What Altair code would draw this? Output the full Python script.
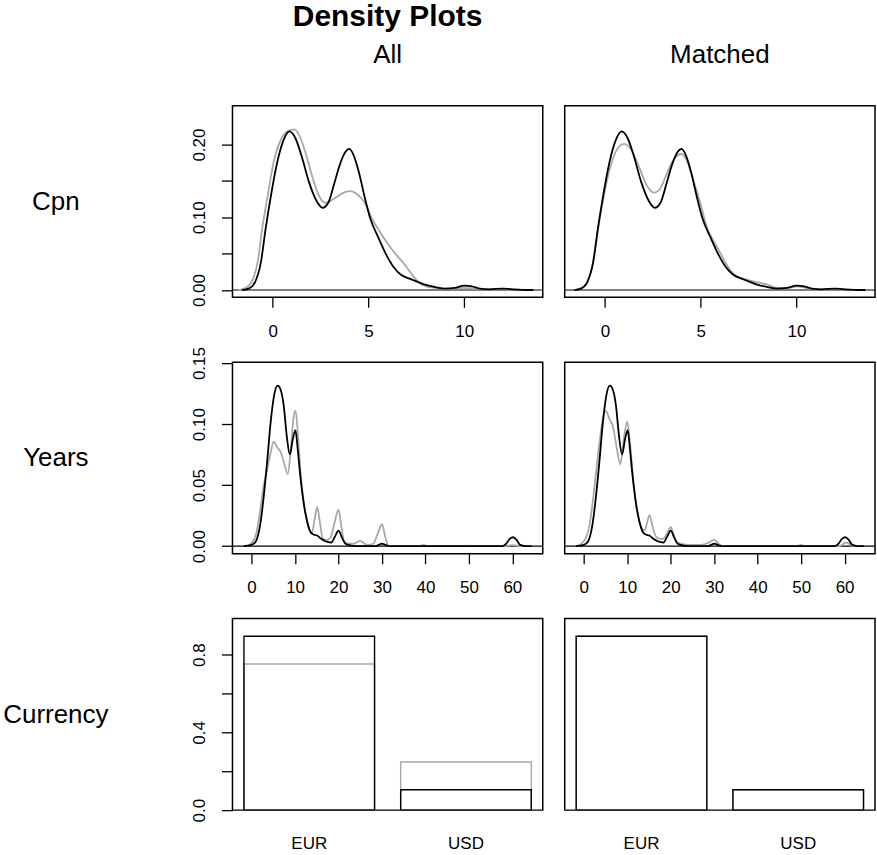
import altair as alt
import pandas as pd

FONT = "Liberation Sans"
GREY = "#a8a8a8"

# ---------------- data ----------------
# Cpn densities (black = treated, shared by both columns)
cpn_black_x = [-1.6, -1.25, -0.92, -0.61, -0.37, -0.09, 0.24, 0.55, 0.87, 1.2, 1.5, 1.9, 2.3, 2.6, 2.9,
               3.2, 3.5, 3.8, 4.0, 4.2, 4.5, 4.8, 5.1, 5.5, 5.9, 6.3, 6.7, 7.1, 7.5, 8.0, 8.5, 9.0,
               9.5, 10.0, 10.4, 10.8, 11.3, 12.0, 12.5, 13.0, 13.6]
cpn_black_y = [0.0, 0.002, 0.011, 0.039, 0.084, 0.13, 0.176, 0.205, 0.218, 0.208, 0.185, 0.148, 0.122,
               0.113, 0.12, 0.145, 0.172, 0.19, 0.194, 0.187, 0.162, 0.128, 0.098, 0.073, 0.05, 0.032,
               0.021, 0.016, 0.012, 0.007, 0.004, 0.002, 0.003, 0.006, 0.005, 0.002, 0.001, 0.002,
               0.001, 0.0003, 0.0]
cpn_all_grey_x = [-1.8, -1.4, -1.1, -0.78, -0.55, -0.26, 0.05, 0.45, 0.8, 1.13, 1.4, 1.7, 2.0, 2.3, 2.6,
                  2.8, 3.1, 3.4, 3.8, 4.05, 4.4, 4.8, 5.2, 5.6, 6.0, 6.4, 6.8, 7.2, 7.6, 8.0, 8.5, 9.0,
                  9.5, 10.0, 10.5, 11.0, 12.0, 13.5]
cpn_all_grey_y = [0.0, 0.003, 0.011, 0.039, 0.084, 0.13, 0.176, 0.208, 0.219, 0.221, 0.212, 0.19, 0.162,
                  0.137, 0.122, 0.12, 0.124, 0.129, 0.135, 0.136, 0.132, 0.12, 0.097, 0.08, 0.064, 0.05,
                  0.038, 0.024, 0.011, 0.005, 0.003, 0.002, 0.002, 0.003, 0.002, 0.001, 0.001, 0.0]
cpn_match_grey_x = [-1.6, -1.2, -0.92, -0.61, -0.37, -0.09, 0.24, 0.6, 1.0, 1.4, 1.8, 2.2, 2.56, 2.9,
                    3.2, 3.6, 4.0, 4.3, 4.6, 5.0, 5.3, 5.7, 6.0, 6.4, 6.8, 7.3, 7.9, 8.4, 9.0, 9.6,
                    10.05, 10.5, 11.0, 12.0, 13.3]
cpn_match_grey_y = [0.0, 0.003, 0.011, 0.039, 0.082, 0.125, 0.165, 0.192, 0.201, 0.192, 0.168, 0.143,
                    0.134, 0.14, 0.158, 0.18, 0.187, 0.177, 0.152, 0.118, 0.088, 0.066, 0.052, 0.033,
                    0.02, 0.015, 0.011, 0.008, 0.003, 0.003, 0.005, 0.003, 0.001, 0.001, 0.0]

# Years densities
yrs_black_x = [-1.8, 0.0, 1.0, 2.0, 2.8, 3.6, 4.4, 5.2, 6.0, 6.7, 7.4, 8.1, 8.8, 9.5, 10.1, 10.6, 11.2,
               12.0, 12.8, 13.5, 14.2, 15.1, 16.0, 17.0, 18.3, 19.2, 20.0, 20.8, 21.6, 23.0, 25.0, 28.5,
               29.3, 30.0, 30.8, 32.0, 57.8, 58.6, 59.4, 60.2, 61.0, 61.8, 63.0, 64.4]
yrs_black_y = [0.0, 0.001, 0.004, 0.018, 0.041, 0.07, 0.102, 0.124, 0.1315, 0.128, 0.115, 0.09, 0.075,
               0.088, 0.095, 0.08, 0.058, 0.035, 0.02, 0.012, 0.0095, 0.0087, 0.006, 0.004, 0.003, 0.008,
               0.0128, 0.007, 0.002, 0.0005, 0.0, 0.0, 0.001, 0.002, 0.001, 0.0, 0.0, 0.002, 0.006,
               0.0073, 0.005, 0.001, 0.0, 0.0]
yrs_all_grey_x = [-1.0, 0.5, 1.3, 2.0, 2.8, 3.6, 4.4, 5.1, 5.9, 6.7, 7.5, 8.3, 9.0, 9.6, 10.1, 10.6, 11.2,
                  12.0, 12.8, 13.5, 13.9, 14.5, 15.1, 15.7, 16.4, 17.2, 18.1, 19.0, 20.0, 20.7, 21.3,
                  22.3, 23.5, 25.0, 26.0, 26.8, 28.0, 29.0, 30.0, 30.8, 31.5, 33.0, 38.5, 39.6, 40.5,
                  49.0, 50.0, 51.0, 58.0, 60.0, 62.0, 64.0]
yrs_all_grey_y = [0.0, 0.005, 0.014, 0.03, 0.05, 0.063, 0.077, 0.0856, 0.081, 0.077, 0.068, 0.059,
                  0.078, 0.104, 0.111, 0.095, 0.063, 0.036, 0.0196, 0.012, 0.011, 0.022, 0.032, 0.02,
                  0.006, 0.005, 0.0065, 0.018, 0.03, 0.015, 0.0038, 0.002, 0.002, 0.0043, 0.002, 0.001,
                  0.002, 0.01, 0.018, 0.007, 0.0005, 0.0, 0.0, 0.001, 0.0, 0.0, 0.0004, 0.0, 0.0,
                  0.0008, 0.0, 0.0]
yrs_match_grey_x = [-1.5, 0.0, 1.3, 2.0, 2.8, 3.6, 4.4, 5.1, 5.9, 6.7, 7.5, 8.4, 9.2, 10.0, 10.6, 11.3,
                    12.0, 12.8, 13.5, 14.0, 14.6, 15.1, 15.8, 16.7, 17.5, 18.2, 19.2, 20.0, 20.7, 21.4,
                    23.0, 25.1, 27.0, 28.8, 30.0, 31.0, 32.0, 48.8, 50.0, 51.0, 58.8, 60.4, 62.0, 64.0]
yrs_match_grey_y = [0.0, 0.004, 0.017, 0.035, 0.06, 0.085, 0.105, 0.1106, 0.104, 0.098, 0.082, 0.067,
                    0.088, 0.102, 0.085, 0.058, 0.035, 0.0196, 0.014, 0.0128, 0.02, 0.0255, 0.016,
                    0.0073, 0.006, 0.006, 0.011, 0.0155, 0.009, 0.003, 0.0015, 0.001, 0.001, 0.003,
                    0.0054, 0.002, 0.0, 0.0, 0.001, 0.0, 0.0, 0.003, 0.0, 0.0]

# Currency proportions
currencies = ["EUR", "USD"]
cur_all_black = [0.895, 0.105]
cur_all_grey = [0.752, 0.248]
cur_match_black = [0.895, 0.105]
cur_match_grey = [0.895, 0.105]

row_labels = ["Cpn", "Years", "Currency"]
col_labels = ["All", "Matched"]
main_title = "Density Plots"

# ---------------- helpers ----------------
W, H = 311, 192
LBL = 26


def x_axis(values):
    return alt.Axis(values=values, format="d", domain=False, grid=False, ticks=True, tickSize=10,
                    tickWidth=1.3, tickColor="black", labelFontSize=17, labelFont=FONT,
                    labelColor="black", labelPadding=16, labelBaseline="top", labelFlush=False,
                    labelOverlap=False, title=None)


def y_axis(values, expr, title):
    return alt.Axis(values=values, domain=False, grid=False, ticks=True, tickSize=11, tickWidth=1.3,
                    tickColor="black", labelFontSize=17, labelFont=FONT, labelColor="black",
                    labelAngle=270, labelAlign="center", labelBaseline="alphabetic", labelPadding=17,
                    labelExpr=expr, labelOverlap=False, labelFlush=False, title=title, titleAngle=0,
                    titleAlign="center", titleBaseline="alphabetic", titleX=-177.5, titleY=104,
                    titleFontSize=LBL, titleFontWeight="normal", titleFont=FONT, titleColor="black")


def density_panel(gx, gy, bx, by, xdom, ydom, xticks, yax):
    xe = alt.X("x:Q", scale=alt.Scale(domain=xdom, nice=False, zero=False), axis=x_axis(xticks))
    ye = alt.Y("y:Q", scale=alt.Scale(domain=ydom, nice=False, zero=False), axis=yax)
    zero = alt.Chart(pd.DataFrame({"y": [0.0]})).mark_rule(color="black", strokeWidth=1.2).encode(y=ye)
    grey = alt.Chart(pd.DataFrame({"x": gx, "y": gy})).mark_line(
        interpolate="monotone", color=GREY, strokeWidth=1.8).encode(x=xe, y=ye)
    black = alt.Chart(pd.DataFrame({"x": bx, "y": by})).mark_line(
        interpolate="monotone", color="black", strokeWidth=1.8).encode(x=xe, y=ye)
    return alt.layer(zero, grey, black).properties(width=W, height=H)


def bar_panel(grey_vals, black_vals, yax):
    xe = alt.X("cur:N", sort=currencies,
               scale=alt.Scale(paddingInner=0.1667, paddingOuter=0.0733),
               axis=alt.Axis(ticks=False, tickSize=0, domain=False, grid=False, labelAngle=0,
                             labelFontSize=17, labelFont=FONT, labelColor="black", labelPadding=25,
                             labelBaseline="top", title=None))
    ye = alt.Y("v:Q", scale=alt.Scale(domain=[0, 0.986], nice=False, zero=False), axis=yax)
    grey = alt.Chart(pd.DataFrame({"cur": currencies, "v": grey_vals})).mark_bar(
        fillOpacity=0, stroke=GREY, strokeWidth=1.4).encode(x=xe, y=ye)
    black = alt.Chart(pd.DataFrame({"cur": currencies, "v": black_vals})).mark_bar(
        fillOpacity=0, stroke="black", strokeWidth=1.4).encode(x=xe, y=ye)
    return alt.layer(grey, black).properties(width=W, height=H)


cpn_dom_x = [-2.1, 14.1]
cpn_dom_y = [-0.0100, 0.2534]
yrs_dom_x = [-4.4, 67.0]
yrs_dom_y = [-0.0062, 0.1508]

cpn_expr = "indexof(['0.00','0.10','0.20'], format(datum.value, '.2f')) >= 0 ? format(datum.value, '.2f') : ''"
yrs_expr = "format(datum.value, '.2f')"
cur_expr = "indexof(['0.0','0.4','0.8'], format(datum.value, '.1f')) >= 0 ? format(datum.value, '.1f') : ''"

p11 = density_panel(cpn_all_grey_x, cpn_all_grey_y, cpn_black_x, cpn_black_y, cpn_dom_x, cpn_dom_y,
                    [0, 5, 10], y_axis([0, 0.05, 0.1, 0.15, 0.2], cpn_expr, row_labels[0]))
p11 = p11.properties(title=alt.TitleParams(
    text=main_title, subtitle=col_labels[0], fontSize=30, fontWeight="bold", font=FONT, color="black",
    subtitleFontSize=LBL, subtitleFont=FONT, subtitleColor="black", subtitleFontWeight="normal",
    subtitlePadding=10, anchor="middle", frame="group", offset=38))
p12 = density_panel(cpn_match_grey_x, cpn_match_grey_y, cpn_black_x, cpn_black_y, cpn_dom_x, cpn_dom_y,
                    [0, 5, 10], None)
p12 = p12.properties(title=alt.TitleParams(
    text=col_labels[1], fontSize=LBL, fontWeight="normal", font=FONT, color="black",
    anchor="middle", frame="group", offset=38))

p21 = density_panel(yrs_all_grey_x, yrs_all_grey_y, yrs_black_x, yrs_black_y, yrs_dom_x, yrs_dom_y,
                    [0, 10, 20, 30, 40, 50, 60], y_axis([0, 0.05, 0.1, 0.15], yrs_expr, row_labels[1]))
p22 = density_panel(yrs_match_grey_x, yrs_match_grey_y, yrs_black_x, yrs_black_y, yrs_dom_x, yrs_dom_y,
                    [0, 10, 20, 30, 40, 50, 60], None)

p31 = bar_panel(cur_all_grey, cur_all_black, y_axis([0, 0.2, 0.4, 0.6, 0.8], cur_expr, row_labels[2]))
p32 = bar_panel(cur_match_grey, cur_match_black, None)

chart = alt.concat(p11, p12, p21, p22, p31, p32, columns=2,
                   spacing={"row": 65, "column": 22}, bounds="flush").properties(
    padding={"left": 2, "top": 0, "right": 0, "bottom": 0},
    background="white"
).configure_view(stroke="black", strokeWidth=1.5)

chart.save("out.html", embed_options={"renderer": "svg", "actions": False})
